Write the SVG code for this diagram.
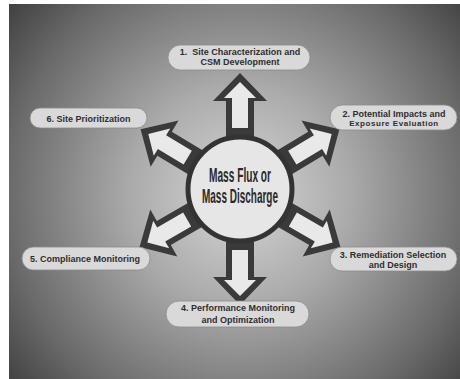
<svg xmlns="http://www.w3.org/2000/svg" width="460" height="379" viewBox="0 0 460 379">
<style>
.pill{fill:#d9d9d9;stroke:#8c8c8c;stroke-width:0.8}
.lbl{font-family:"Liberation Sans",Arial,sans-serif;font-weight:bold;font-size:9px;fill:#2e2e2e;text-anchor:middle}
.sm{font-size:8px;letter-spacing:0.55px}
.ctr{font-family:"Liberation Sans",Arial,sans-serif;font-size:20px;font-weight:bold;fill:#2a2a2a;text-anchor:middle}
.adark{fill:#3a3a3a}
.alight{fill:#e9e9e9}
</style>
<defs>
<radialGradient id="bg" gradientUnits="userSpaceOnUse" cx="240" cy="195" r="310">
<stop offset="0" stop-color="#d6d6d6"/>
<stop offset="0.35" stop-color="#ababab"/>
<stop offset="0.75" stop-color="#6a6a6a"/>
<stop offset="1" stop-color="#3a3a3a"/>
</radialGradient>
<g id="arrow">
<polygon class="adark" points="-14,-40 -14,-88 -27,-88 0,-116 27,-88 14,-88 14,-40"/>
<polygon class="alight" points="-8,-61 -8,-91 -16,-91 0,-107 16,-91 8,-91 8,-61"/>
</g>
</defs>
<rect x="0" y="0" width="460" height="379" fill="#ffffff"/>
<rect x="9" y="4" width="451" height="375" fill="url(#bg)"/>
<g id="connectors">
<use href="#arrow" transform="translate(240,189)"/>
<use href="#arrow" transform="translate(240,189) rotate(59)"/>
<use href="#arrow" transform="translate(240,189) rotate(120)"/>
<use href="#arrow" transform="translate(240,189) rotate(180)"/>
<use href="#arrow" transform="translate(240,189) rotate(240)"/>
<use href="#arrow" transform="translate(240,189) rotate(301)"/>
</g>
<g id="center">
<circle cx="240" cy="189" r="52" fill="#e6e6e6" stroke="#333333" stroke-width="5"/>
<text class="ctr" x="240" y="182" textLength="62" lengthAdjust="spacingAndGlyphs">Mass Flux or</text>
<text class="ctr" x="240" y="203" textLength="76" lengthAdjust="spacingAndGlyphs">Mass Discharge</text>
</g>
<g id="node1">
<rect class="pill" x="168" y="45" width="142" height="25" rx="12.5"/>
<text class="lbl" x="240" y="54.5">1.&#160; Site Characterization and</text>
<text class="lbl" x="240" y="65">CSM Development</text>
</g>
<g id="node2">
<rect class="pill" x="330" y="105" width="127" height="25" rx="12.5"/>
<text class="lbl" x="394" y="116.5">2. Potential Impacts and</text>
<text class="lbl sm" x="394" y="126">Exposure Evaluation</text>
</g>
<g id="node3">
<rect class="pill" x="330" y="247" width="127" height="24" rx="12"/>
<text class="lbl" x="393" y="257.5">3. Remediation Selection</text>
<text class="lbl" x="393" y="267.5">and Design</text>
</g>
<g id="node4">
<rect class="pill" x="166" y="301" width="143" height="26" rx="13"/>
<text class="lbl" x="238" y="310.5">4. Performance Monitoring</text>
<text class="lbl" x="238" y="322.5">and Optimization</text>
</g>
<g id="node5">
<rect class="pill" x="22" y="247" width="128" height="23" rx="11.5"/>
<text class="lbl" x="85" y="261.5">5. Compliance Monitoring</text>
</g>
<g id="node6">
<rect class="pill" x="30" y="108" width="117" height="20" rx="10"/>
<text class="lbl" x="88.5" y="121.5">6. Site Prioritization</text>
</g>
</svg>
